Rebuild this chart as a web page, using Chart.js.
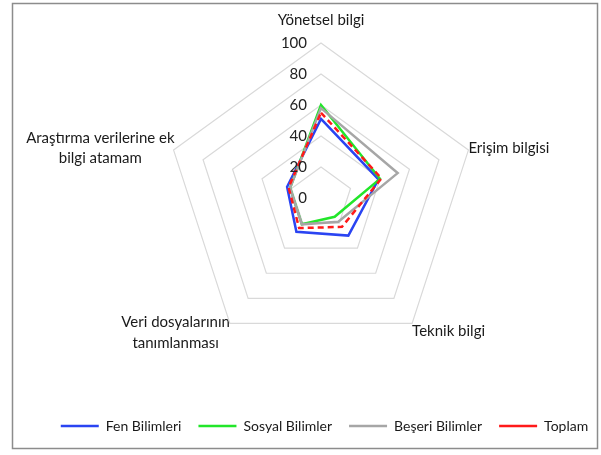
<!DOCTYPE html>
<html>
<head>
<meta charset="utf-8">
<script src="https://cdn.jsdelivr.net/npm/chart.js@4"></script>
<style>
  body { margin: 0; background: #fff; }
  #wrap { width: 601px; height: 455px; position: relative; }
</style>
</head>
<body>
<div id="wrap"><canvas id="myChart" width="601" height="455"></canvas></div>
<script>
// axes of the radar
var labels = [
    "Yönetsel bilgi",
    "Erişim bilgisi",
    "Teknik bilgi",
    ["Veri dosyalarının", "tanımlanması"],
    ["Araştırma verilerine ek", "bilgi atamam"]
];
var tickValues = [0, 20, 40, 60, 80, 100];

var fenBilimleri = [51, 39, 30, 27, 23];
var sosyalBilimler = [60, 40, 15, 21, 21];
var beseriBilimler = [58, 52, 19, 21, 21];
var toplam = [55, 41, 23, 24, 22];

// small nudges so the axis titles sit like in the original
var labelNudge = [[0, 0], [0, 8], [0, -2], [0, -11], [1, 18]];

// place the radar like the original instead of the auto fit
function placeRadar(scale) {
    var cx = 321, cy = 198, R = 155;
    var ox = scale.xCenter, oy = scale.yCenter, oR = scale.drawingArea;
    scale.xCenter = cx;
    scale.yCenter = cy;
    scale.drawingArea = R;
    (scale._pointLabelItems || []).forEach(function(it, i) {
        var a = scale.getIndexAngle(i) - Math.PI / 2;
        var dx = cx - ox + (R - oR) * Math.cos(a) + labelNudge[i][0];
        var dy = cy - oy + (R - oR) * Math.sin(a) + labelNudge[i][1];
        it.x += dx; it.left += dx; it.right += dx;
        it.y += dy; it.top += dy; it.bottom += dy;
        if (Array.isArray(labels[i])) {
            it.x = (it.left + it.right) / 2;
            it.textAlign = 'center';
        }
    });
}

// value labels left of the vertical axis, plus the outer frame
var excelTicks = {
    id: 'excelTicks',
    afterLayout: function(chart) {
        // legend sits a bit right of centre in the original
        chart.legend.left += 48;
    },
    afterDraw: function(chart) {
        var ctx = chart.ctx;
        var r = chart.scales.r;
        ctx.save();
        ctx.font = '15px Lato';
        ctx.fillStyle = '#222';
        ctx.textAlign = 'right';
        ctx.textBaseline = 'middle';
        tickValues.forEach(function(v) {
            var d = r.getDistanceFromCenterForValue(v);
            ctx.fillText(String(v), r.xCenter - 14, r.yCenter - d);
        });
        ctx.strokeStyle = '#8c8c8c';
        ctx.lineWidth = 1.5;
        ctx.strokeRect(12.5, 3.5, 585, 445);
        ctx.restore();
    }
};

var ctx = document.getElementById('myChart').getContext('2d');
var myChart = new Chart(ctx, {
    type: 'radar',
    data: {
        labels: labels,
        datasets: [{
            label: 'Fen Bilimleri',
            data: fenBilimleri,
            borderColor: '#2a44f2',
            borderWidth: 2.5,
            order: 4
        }, {
            label: 'Sosyal Bilimler',
            data: sosyalBilimler,
            borderColor: '#22e62a',
            borderWidth: 2.5,
            order: 3
        }, {
            label: 'Beşeri Bilimler',
            data: beseriBilimler,
            borderColor: '#a6a6a6',
            borderWidth: 2.5,
            order: 2
        }, {
            label: 'Toplam',
            data: toplam,
            borderColor: '#ff1a1a',
            borderWidth: 2.5,
            borderDash: [6, 4],
            order: 1
        }]
    },
    options: {
        responsive: false,
        animation: false,
        layout: {
            // negative sides only widen the legend row
            padding: { left: -20, right: -20, top: 0, bottom: 12 }
        },
        elements: {
            point: { radius: 0, hoverRadius: 0 },
            line: { fill: false, tension: 0 }
        },
        scales: {
            r: {
                min: 0,
                max: 100,
                startAngle: 0,
                afterFit: placeRadar,
                ticks: { display: false, stepSize: 20 },
                grid: { color: '#d9d9d9', lineWidth: 1.2 },
                angleLines: { display: false },
                pointLabels: {
                    font: { family: 'Lato', size: 15, lineHeight: 1.35 },
                    color: '#1a1a1a',
                    padding: function(c) { return c.index === 0 ? 13 : 0; }
                }
            }
        },
        plugins: {
            legend: {
                position: 'bottom',
                reverse: true,
                labels: {
                    usePointStyle: true,
                    pointStyle: 'line',
                    pointStyleWidth: 38,
                    boxHeight: 10,
                    padding: 17,
                    color: '#1a1a1a',
                    font: { family: 'Lato', size: 14 }
                }
            },
            tooltip: { enabled: false }
        }
    },
    plugins: [excelTicks]
});
</script>
</body>
</html>
